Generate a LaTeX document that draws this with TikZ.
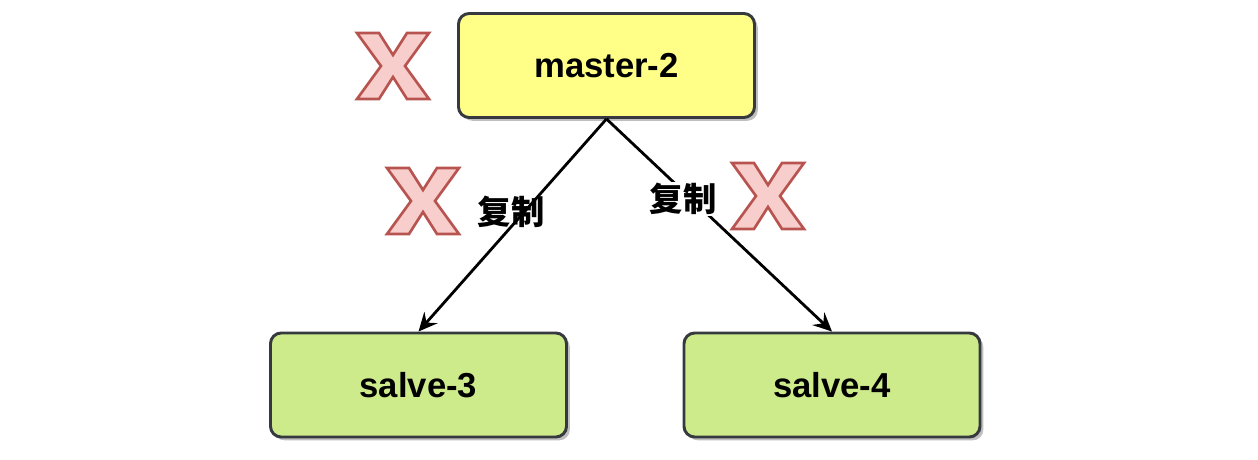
\documentclass[tikz,border=0pt]{standalone}
\usepackage{fontspec}
\setmainfont{Liberation Sans}
\newfontfamily\cjk{Noto Sans CJK SC}
\usepackage{tikz}
\usetikzlibrary{arrows.meta,shadows}

\definecolor{boxline}{HTML}{36393D}
\definecolor{masterfill}{HTML}{FFFF88}
\definecolor{salvefill}{HTML}{CDEB8B}
\definecolor{crossfill}{HTML}{F8CECC}
\definecolor{crossline}{HTML}{B85450}

\begin{document}
\begin{tikzpicture}[x=0.75pt,y=-0.75pt,
        server/.style={draw=boxline,line width=2.2pt,rounded corners=8pt,
            minimum width=222pt,minimum height=78pt,inner sep=0pt,
            drop shadow={shadow xshift=2.5pt,shadow yshift=-2.5pt,fill=black!25,opacity=1},
            font=\fontsize{26}{31}\selectfont\bfseries},
        copyline/.style={-{Stealth[length=14pt,width=13pt,inset=5pt]},line width=2.1pt},
        copylabel/.style={font=\cjk\fontsize{25}{30}\selectfont\bfseries,inner sep=1pt}]
        \useasboundingbox (0,0) rectangle (1258,460);

        \node[server,fill=masterfill] (master2) at (606.5,65.5) {master-2};
        \node[server,fill=salvefill] (salve3) at (418.5,385) {salve-3};
        \node[server,fill=salvefill] (salve4) at (832,385) {salve-4};

        \draw[copyline] (master2.south) -- (salve3.north);
        \draw[copyline] (master2.south) -- (salve4.north);

        \node[copylabel] (copy3) at (511,212) {复制};
        \node[copylabel,fill=white] (copy4) at (683,199) {复制};

        % failed marks
        \foreach \cx/\cy in {393/66, 423/201, 768/196}
            \draw[shift={(\cx,\cy)},fill=crossfill,draw=crossline,line width=2pt,line join=miter]
                (-36,-33) -- (-14,-33) -- (0,-11) -- (14,-33) -- (36,-33) -- (12,0)
                -- (36,33) -- (14,33) -- (0,11) -- (-14,33) -- (-36,33) -- (-12,0) -- cycle;
    \end{tikzpicture}
\end{document}
